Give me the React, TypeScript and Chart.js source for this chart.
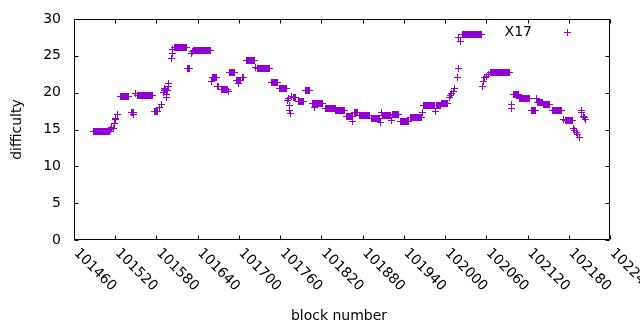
import React, { useEffect, useRef } from "react";
import { Chart, registerables } from "chart.js";

Chart.register(...registerables);

// Runs of consecutive blocks sharing one difficulty value: block runStart[i]..runEnd[i] -> runValue[i]
const runStart = [
  101489, 101513, 101515, 101517, 101519, 101520, 101521, 101523, 101527, 101543,
  101547, 101549, 101552, 101577, 101585, 101587, 101590, 101591, 101592, 101593,
  101594, 101595, 101596, 101597, 101598, 101602, 101603, 101604, 101606, 101625,
  101631, 101632, 101634, 101660, 101661, 101669, 101674, 101685, 101686, 101696,
  101699, 101705, 101711, 101724, 101727, 101748, 101759, 101770, 101772, 101773,
  101774, 101775, 101777, 101779, 101786, 101797, 101807, 101810, 101826, 101841,
  101857, 101866, 101868, 101876, 101893, 101906, 101908, 101909, 101922, 101924,
  101935, 101950, 101967, 101969, 101986, 101987, 101995, 102006, 102008, 102010,
  102012, 102014, 102018, 102019, 102020, 102023, 102026, 102055, 102056, 102058,
  102060, 102063, 102066, 102096, 102097, 102099, 102109, 102126, 102133, 102134,
  102143, 102156, 102173, 102175, 102187, 102188, 102191, 102193, 102196, 102198,
  102199, 102202, 102203, 102205,
];
const runEnd = [
  101511, 101513, 101515, 101517, 101519, 101520, 101521, 101523, 101539, 101546,
  101547, 101549, 101574, 101582, 101585, 101587, 101590, 101591, 101592, 101593,
  101594, 101595, 101596, 101597, 101598, 101602, 101603, 101604, 101623, 101628,
  101631, 101632, 101658, 101660, 101667, 101671, 101683, 101685, 101693, 101702,
  101699, 101706, 101722, 101724, 101745, 101756, 101769, 101770, 101772, 101773,
  101774, 101775, 101777, 101782, 101794, 101803, 101822, 101810, 101840, 101854,
  101866, 101866, 101873, 101890, 101905, 101906, 101908, 101921, 101922, 101932,
  101947, 101965, 101967, 101985, 101986, 101994, 102004, 102006, 102008, 102010,
  102012, 102014, 102018, 102019, 102020, 102023, 102053, 102055, 102056, 102058,
  102060, 102063, 102094, 102096, 102097, 102107, 102123, 102132, 102133, 102142,
  102152, 102170, 102173, 102185, 102187, 102188, 102191, 102193, 102196, 102198,
  102199, 102202, 102203, 102205,
];
const runValue = [
  14.7, 15.0, 15.3, 15.1, 15.8, 16.3, 16.5, 17.1, 19.45, 17.3,
  17.0, 19.95, 19.6, 17.4, 18.0, 18.4, 20.0, 20.3, 20.6, 20.4,
  19.7, 19.4, 20.3, 20.8, 21.2, 24.7, 25.3, 25.9, 26.15, 23.3,
  25.3, 25.6, 25.75, 21.5, 22.1, 20.8, 20.45, 20.1, 22.7, 21.6,
  21.2, 22.0, 24.4, 23.4, 23.3, 21.35, 20.5, 18.9, 19.2, 18.2,
  17.6, 17.2, 19.5, 19.4, 18.8, 20.3, 18.55, 18.0, 17.8, 17.6,
  16.8, 16.1, 17.3, 16.85, 16.5, 15.9, 17.3, 16.9, 16.2, 17.0,
  16.1, 16.6, 17.3, 18.25, 17.5, 18.3, 18.5, 19.3, 19.6, 19.9,
  20.1, 20.5, 22.0, 23.3, 27.5, 26.9, 27.9, 20.9, 21.5, 22.0,
  22.2, 22.4, 22.75, 17.9, 18.4, 19.7, 19.25, 17.6, 19.2, 18.7,
  18.4, 17.6, 16.3, 16.2, 15.1, 14.9, 14.6, 14.3, 13.9, 17.6,
  17.3, 16.8, 16.6, 16.3,
];

const xTickValues = [
  101460, 101520, 101580, 101640, 101700, 101760, 101820, 101880, 101940,
  102000, 102060, 102120, 102180, 102240,
];
const yTickValues = [0, 5, 10, 15, 20, 25, 30];
const seriesName = "X17";
const xTitle = "block number";
const yTitle = "difficulty";

const COLOR = "#9400d3";
const FONT = '14px "DejaVu Sans"';

function buildPoints() {
  const pts: { x: number; y: number }[] = [];
  for (let i = 0; i < runStart.length; i++) {
    for (let b = runStart[i]; b <= runEnd[i]; b++) pts.push({ x: b, y: runValue[i] });
  }
  return pts;
}

// crisp gnuplot-like "+" marker
function makeCross(): HTMLCanvasElement {
  const c = document.createElement("canvas");
  c.width = 7;
  c.height = 7;
  const g = c.getContext("2d")!;
  g.fillStyle = COLOR;
  g.fillRect(0, 3, 7, 1);
  g.fillRect(3, 0, 1, 7);
  return c;
}

const gnuplotFrame = {
  id: "gnuplotFrame",
  beforeDatasetsDraw(chart: any) {
    const { ctx, scales } = chart;
    const x = scales.x;
    const y = scales.y;
    const L = Math.floor(x.getPixelForValue(xTickValues[0])) + 0.5;
    const R = Math.ceil(x.getPixelForValue(xTickValues[xTickValues.length - 1])) - 0.5;
    const T = Math.floor(y.getPixelForValue(yTickValues[yTickValues.length - 1])) + 0.5;
    const B = Math.ceil(y.getPixelForValue(yTickValues[0])) - 0.5;
    ctx.save();
    ctx.strokeStyle = "#000";
    ctx.lineWidth = 1;
    ctx.beginPath();
    ctx.rect(L, T, R - L, B - T);
    const tl = 4;
    for (const v of xTickValues) {
      const px = Math.round(x.getPixelForValue(v)) + 0.5;
      ctx.moveTo(px, B);
      ctx.lineTo(px, B - tl);
      ctx.moveTo(px, T);
      ctx.lineTo(px, T + tl);
    }
    for (const v of yTickValues) {
      const py = Math.round(y.getPixelForValue(v)) + 0.5;
      ctx.moveTo(L, py);
      ctx.lineTo(L + tl, py);
      ctx.moveTo(R, py);
      ctx.lineTo(R - tl, py);
    }
    ctx.stroke();

    ctx.fillStyle = "#000";
    ctx.font = FONT;
    ctx.textAlign = "right";
    ctx.textBaseline = "middle";
    for (const v of yTickValues) {
      ctx.fillText(String(v), 61, y.getPixelForValue(v));
    }
    for (const v of xTickValues) {
      const px = x.getPixelForValue(v);
      ctx.save();
      ctx.translate(px + 2, 251);
      ctx.rotate(Math.PI / 4);
      ctx.textAlign = "left";
      ctx.textBaseline = "middle";
      ctx.fillText(String(v), 0, 0);
      ctx.restore();
    }
    ctx.textAlign = "center";
    ctx.textBaseline = "middle";
    ctx.fillText(xTitle, 339, 316);
    ctx.save();
    ctx.translate(17, 129.5);
    ctx.rotate(-Math.PI / 2);
    ctx.fillText(yTitle, 0, 0);
    ctx.restore();

    // key
    ctx.textAlign = "right";
    ctx.fillText(seriesName, 532, 32);
    ctx.fillStyle = COLOR;
    ctx.fillRect(564, 32, 7, 1);
    ctx.fillRect(567, 29, 1, 7);
    ctx.restore();

    // nearest-neighbour drawing for crisp markers
    ctx.save();
    ctx.imageSmoothingEnabled = false;
  },
  afterDatasetsDraw(chart: any) {
    chart.ctx.restore();
  },
};

export default function App() {
  const ref = useRef<HTMLCanvasElement | null>(null);
  useEffect(() => {
    document.body.style.margin = "0";
    const canvas = ref.current;
    if (!canvas) return;
    const cross = makeCross();
    const chart = new Chart(canvas, {
      type: "scatter",
      data: {
        datasets: [
          {
            label: seriesName,
            data: buildPoints(),
            pointStyle: cross as any,
            pointRadius: 3.5,
            pointHoverRadius: 3.5,
            borderColor: COLOR,
            backgroundColor: COLOR,
            borderWidth: 1,
            showLine: false,
          },
        ],
      },
      options: {
        responsive: false,
        animation: false,
        events: [],
        layout: { padding: { left: 74, right: 30, top: 19, bottom: 90 } },
        plugins: { legend: { display: false }, tooltip: { enabled: false } },
        scales: {
          x: { type: "linear", min: 101460, max: 102240, display: false },
          y: { type: "linear", min: 0, max: 30, display: false },
        },
      },
      plugins: [gnuplotFrame],
    });
    return () => chart.destroy();
  }, []);
  return (
    <canvas
      ref={ref}
      width={640}
      height={330}
      style={{ display: "block", position: "absolute", left: 0, top: 0 }}
    />
  );
}
